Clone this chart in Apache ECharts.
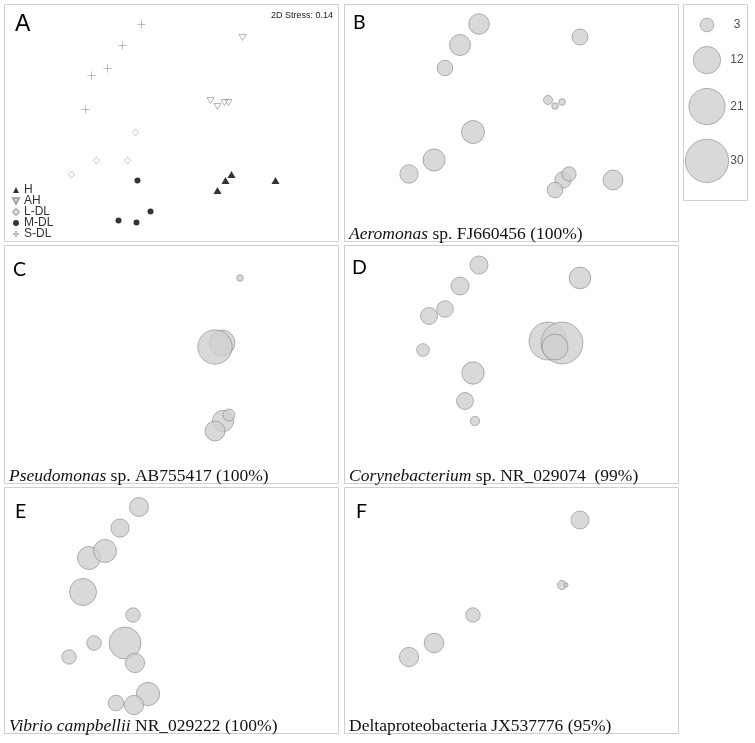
<!DOCTYPE html>
<html><head><meta charset="utf-8">
<script src="https://cdn.jsdelivr.net/npm/echarts@6/dist/echarts.min.js"></script>
<style>html,body{margin:0;padding:0;background:#fff}#c{width:755px;height:743px}</style>
</head><body><div id="c"></div>
<script>
// ---- DATA ----
// samples listed in drawing order
const sampleIds   = ['S1','S2','S4','S3','S5','AH1','AH2','AH4','AH5','AH3','L1','L2','L3','L4','M1','M2','M3','M4','H2','H1','H3','H4'];
const sampleGroup = ['S-DL','S-DL','S-DL','S-DL','S-DL','AH','AH','AH','AH','AH','L-DL','L-DL','L-DL','L-DL','M-DL','M-DL','M-DL','M-DL','H','H','H','H'];
const nmds1 = [-0.32,-0.51,-0.82,-0.66,-0.88, 0.69,0.37,0.51,0.55,0.44, -0.38,-0.77,-0.46,-1.02, -0.36,-0.23,-0.55,-0.37, 0.52,0.58,0.44,1.02];
const nmds2 = [ 0.98, 0.77, 0.47, 0.54, 0.13, 0.85,0.22,0.20,0.20,0.16, -0.10,-0.38,-0.38,-0.52, -0.58,-0.89,-0.98,-1.00, -0.58,-0.52,-0.68,-0.58];
const groupNames = ['H','AH','L-DL','M-DL','S-DL'];
const stressLabel = '2D Stress: 0.14';

const abundAeromonas   = [6.8,7.1,0,3.9,0, 4.1,1.3,0.7,0,0.7, 8.5,7.8,0,5.4, 0,0,0,0, 4.4,3.3,3.9,6.4];
const abundPseudomonas = [0,0,0,0,0, 0.7,0,10.8,0,18.9, 0,0,0,0, 0,0,0,0, 7.3,2.3,6.4,0];
const abundCoryne      = [5.2,5.2,4.6,4.4,2.6, 7.5,23,28,0,10.8, 8,0,4.6,0, 1.4,0,0,0, 0,0,0,0];
const abundVibrio      = [5.8,5.4,8.5,8.5,11.7, 0,0,0,0,0, 3.3,3.4,16.4,3.3, 6,8.7,3.9,6, 0,0,0,0];
const abundDelta       = [0,0,0,0,0, 5.2,0,1.3,0.26,0, 3.3,6.2,0,6, 0,0,0,0, 0,0,0,0];
const sizeKeyValues = [3,12,21,30];

const panelLetters = ['A','B','C','D','E','F'];
const captionItalic = ['', 'Aeromonas', 'Pseudomonas', 'Corynebacterium', 'Vibrio campbellii', ''];
const captionPlain  = ['', ' sp. FJ660456 (100%)', ' sp. AB755417 (100%)', ' sp. NR_029074  (99%)', ' NR_029222 (100%)', 'Deltaproteobacteria JX537776 (95%)'];

// ---- LAYOUT / STYLE ----
const PW = 334;
const boxes = [
  {x:4,y:4,h:237},{x:344,y:4,h:237},
  {x:4,y:245,h:238},{x:344,y:245,h:238},
  {x:4,y:487,h:246},{x:344,y:487,h:246}
];
const bubbleAbund = [null, abundAeromonas, abundPseudomonas, abundCoryne, abundVibrio, abundDelta];
const diam = v => 7.9*Math.sqrt(v);
const FILL = '#d0d0d0', EDGE = '#8a8a8a', BORDER = '#cfcfcf';

const grids = [], xAxes = [], yAxes = [], series = [], graphics = [];
boxes.forEach((b,i) => {
  const off = i === 0 ? 2.5 : 0;
  grids.push({left:b.x+off, top:b.y+(i===0?0.5:0), width:PW, height:237, show:false});
  xAxes.push({type:'value', gridIndex:i, min:-1.67, max:1.67, show:false});
  yAxes.push({type:'value', gridIndex:i, min:-1.19, max:1.18, show:false});
  graphics.push({type:'rect', silent:true, z:-1, shape:{x:b.x+0.5,y:b.y+0.5,width:PW,height:b.h}, style:{fill:'none',stroke:BORDER,lineWidth:1}});
});

// Panel A: ordination symbols
const symCfg = {
  'H':    {symbol:'triangle', size:[8,7], style:{color:'#000'}},
  'AH':   {symbol:'path://M0,0L10,0L5,9Z', size:[7,6], style:{color:'rgba(0,0,0,0)', borderColor:'#8c8c8c', borderWidth:0.8}},
  'L-DL': {symbol:'diamond', size:[6,7], style:{color:'rgba(0,0,0,0)', borderColor:'#a6a6a6', borderWidth:0.8}},
  'M-DL': {symbol:'circle', size:6, style:{color:'#000'}},
  'S-DL': {symbol:'path://M5,0L5,10M0,5L10,5', size:8, style:{color:'rgba(0,0,0,0)', borderColor:'#aaaaaa', borderWidth:1}}
};
groupNames.forEach(g => {
  const data = [];
  sampleIds.forEach((s,k) => { if (sampleGroup[k] === g) data.push([nmds1[k], nmds2[k]]); });
  const c = symCfg[g];
  series.push({type:'scatter', name:g, xAxisIndex:0, yAxisIndex:0, data, symbol:c.symbol, symbolSize:c.size, itemStyle:c.style, emphasis:{disabled:true}});
});

// Panels B-F: bubbles
for (let i=1;i<6;i++){
  const ab = bubbleAbund[i];
  const data = [];
  ab.forEach((v,k) => { if (v>0) data.push([nmds1[k], nmds2[k], v]); });
  series.push({type:'scatter', xAxisIndex:i, yAxisIndex:i, data,
    symbolSize: d => diam(d[2]),
    itemStyle:{color:FILL, borderColor:EDGE, borderWidth:0.8}, emphasis:{disabled:true}});
}

// Size key
const KI = 6;
grids.push({left:683, top:4, width:64, height:196, show:false});
xAxes.push({type:'value', gridIndex:KI, min:0, max:64, show:false});
yAxes.push({type:'value', gridIndex:KI, min:0, max:196, inverse:true, show:false});
graphics.push({type:'rect', silent:true, z:-1, shape:{x:683.5,y:4.5,width:64,height:196}, style:{fill:'none',stroke:BORDER,lineWidth:1}});
const keyY = []; let cy = 21;
sizeKeyValues.forEach((v,i) => { if (i>0) cy += diam(sizeKeyValues[i-1])/2 + 14.6 + diam(v)/2; keyY.push(cy); });
series.push({type:'scatter', xAxisIndex:KI, yAxisIndex:KI, data: sizeKeyValues.map((v,i)=>[24,keyY[i],v]),
  symbolSize: d => diam(d[2]), itemStyle:{color:FILL, borderColor:EDGE, borderWidth:0.8}, emphasis:{disabled:true}});
series.push({type:'scatter', xAxisIndex:KI, yAxisIndex:KI, data: sizeKeyValues.map((v,i)=>[54,keyY[i],v]),
  symbolSize:0, label:{show:true, position:'inside', formatter: p => String(p.value[2]), fontFamily:'Liberation Sans', fontSize:12, color:'#222'}, emphasis:{disabled:true}});

// Letters
const letterPos = [[15,25],[353,23],[13,270],[352,267.5],[15,511.5],[356,511.5]];
panelLetters.forEach((L,i) => {
  graphics.push({type:'text', silent:true, x:letterPos[i][0], y:letterPos[i][1],
    style:{text:L, fill:'#000', font: i===0 ? '23px "Liberation Sans"' : '19.5px Lato', verticalAlign:'middle', align:'left'}});
});
graphics.push({type:'text', silent:true, x:333, y:16, style:{text:stressLabel, fill:'#222', font:'9px "Liberation Sans"', align:'right', verticalAlign:'middle'}});

// Captions
for (let i=1;i<6;i++){
  const b = boxes[i];
  let txt = '';
  if (captionItalic[i]) txt += '{i|' + captionItalic[i] + '}';
  txt += '{n|' + captionPlain[i] + '}';
  graphics.push({type:'text', silent:true, x:b.x+5, y:b.y + b.h - 7,
    style:{text:txt, fill:'#111', align:'left', verticalAlign:'middle', fontFamily:'Liberation Serif', fontSize:17.5,
      rich:{ i:{fontStyle:'italic', fontFamily:'Liberation Serif', fontSize:17.5, fill:'#111'},
             n:{fontFamily:'Liberation Serif', fontSize:17.5, fill:'#111'} }}});
}

const chart = echarts.init(document.getElementById('c'), null, {renderer:'canvas'});
chart.setOption({
  animation:false,
  backgroundColor:'#fff',
  grid:grids, xAxis:xAxes, yAxis:yAxes, series,
  legend:{data:groupNames, orient:'vertical', left:12, top:184, itemGap:-1, itemWidth:6, itemHeight:6, padding:0, selectedMode:false,
    textStyle:{fontFamily:'Liberation Sans', fontSize:12, color:'#333', lineHeight:11}},
  graphic:graphics
});
</script></body></html>
